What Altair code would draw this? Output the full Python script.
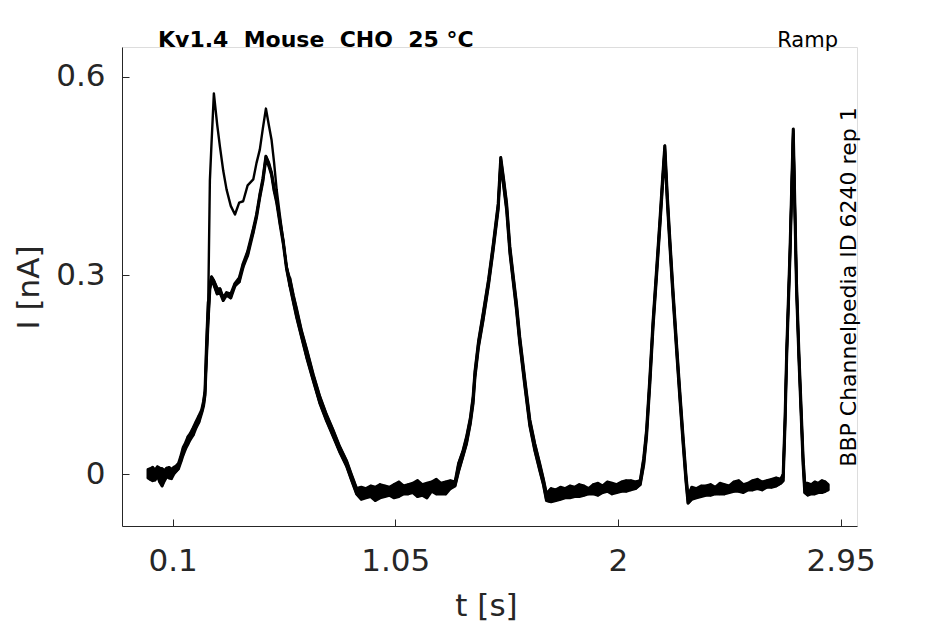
import altair as alt
import pandas as pd

# ---------------- data ----------------
# time grid [s], split by protocol segment
T_base0 = [-0.005, 0.005, 0.015, 0.025, 0.035, 0.045, 0.055, 0.065, 0.075, 0.085, 0.095, 0.105, 0.115]
T_rise = [0.125, 0.135, 0.145, 0.155, 0.165, 0.175, 0.188, 0.2, 0.212, 0.224, 0.232, 0.238, 0.245, 0.252]
T_cplx = [0.259, 0.266, 0.276, 0.29, 0.302, 0.316, 0.330, 0.348, 0.366, 0.384, 0.401, 0.42,
          0.444, 0.458, 0.472, 0.485, 0.498, 0.510, 0.522, 0.533, 0.544, 0.558, 0.572, 0.586]
T_decl = [0.60, 0.615, 0.629, 0.65, 0.672, 0.70, 0.728, 0.756, 0.785, 0.812, 0.842, 0.862, 0.885]
T_base1 = [0.905, 0.925, 0.945, 0.965, 0.985, 1.005, 1.025, 1.045, 1.065, 1.085, 1.105, 1.125,
           1.145, 1.165, 1.185, 1.205, 1.225, 1.245, 1.265, 1.285, 1.305]
T_pk3 = [1.32, 1.338, 1.354, 1.370, 1.382, 1.39, 1.405, 1.425, 1.448, 1.468, 1.489, 1.500,
         1.512, 1.525, 1.539, 1.553, 1.567, 1.581, 1.602, 1.624, 1.645, 1.666, 1.682, 1.695]
T_base2 = [1.715, 1.735, 1.755, 1.775, 1.795, 1.815, 1.835, 1.855, 1.875, 1.895, 1.915, 1.935,
           1.955, 1.975, 1.995, 2.015, 2.035, 2.055, 2.075, 2.095]
T_pk4 = [2.110, 2.122, 2.136, 2.150, 2.165, 2.179, 2.190, 2.200, 2.210, 2.221, 2.235, 2.250,
         2.264, 2.278, 2.290, 2.299]
T_base3 = [2.315, 2.335, 2.355, 2.375, 2.395, 2.415, 2.435, 2.455, 2.475, 2.495, 2.515, 2.535,
           2.555, 2.575, 2.595, 2.615, 2.635, 2.655, 2.675, 2.695]
T_pk5 = [2.705, 2.713, 2.720, 2.734, 2.748, 2.762, 2.772, 2.783, 2.790, 2.797]
T_base4 = [2.81, 2.825, 2.84, 2.855, 2.87, 2.885, 2.897]

# current [nA], trace A (upper first complex)
A_base0 = [0.004, -0.008, 0.010, -0.004, 0.006, -0.012, 0.008, -0.002, 0.009, -0.006, 0.007, 0.000, 0.012]
A_rise = [0.016, 0.018, 0.040, 0.038, 0.056, 0.052, 0.070, 0.070, 0.088, 0.092, 0.110, 0.125, 0.200, 0.260]
A_cplx = [0.444, 0.50, 0.575, 0.528, 0.494, 0.458, 0.430, 0.405, 0.392, 0.410, 0.412, 0.436,
          0.445, 0.470, 0.490, 0.522, 0.552, 0.528, 0.505, 0.470, 0.429, 0.390, 0.352, 0.313]
A_decl = [0.296, 0.270, 0.249, 0.216, 0.188, 0.150, 0.117, 0.090, 0.066, 0.042, 0.020, 0.000, -0.022]
A_base1 = [-0.020, -0.036, -0.018, -0.032, -0.016, -0.034, -0.020, -0.030, -0.012, -0.030, -0.016,
           -0.028, -0.010, -0.032, -0.014, -0.026, -0.008, -0.030, -0.012, -0.022, -0.014]
A_pk3 = [0.016, 0.034, 0.056, 0.084, 0.117, 0.155, 0.200, 0.243, 0.294, 0.347, 0.408, 0.478,
         0.446, 0.409, 0.343, 0.300, 0.258, 0.207, 0.145, 0.082, 0.046, 0.016, -0.008, -0.030]
A_base2 = [-0.022, -0.040, -0.020, -0.036, -0.018, -0.034, -0.016, -0.032, -0.022, -0.030, -0.014,
           -0.028, -0.012, -0.030, -0.016, -0.026, -0.010, -0.024, -0.012, -0.010]
A_pk4 = [0.024, 0.066, 0.145, 0.232, 0.310, 0.383, 0.444, 0.496, 0.425, 0.358, 0.277, 0.197,
         0.125, 0.056, 0.000, -0.034]
A_base3 = [-0.020, -0.036, -0.018, -0.032, -0.016, -0.030, -0.014, -0.030, -0.018, -0.026, -0.010,
           -0.028, -0.014, -0.024, -0.008, -0.024, -0.010, -0.020, -0.006, -0.008]
A_pk5 = [0.000, 0.085, 0.186, 0.337, 0.521, 0.288, 0.185, 0.087, 0.025, -0.014]
A_base4 = [-0.014, -0.030, -0.012, -0.028, -0.010, -0.026, -0.016]

# trace B (lower first complex)
B_base0 = [-0.006, 0.008, -0.010, 0.006, -0.003, 0.009, -0.018, 0.005, -0.004, 0.010, -0.002, 0.008, 0.004]
B_rise = [0.008, 0.027, 0.029, 0.047, 0.045, 0.061, 0.059, 0.079, 0.078, 0.097, 0.103, 0.119, 0.185, 0.240]
B_cplx = [0.285, 0.298, 0.292, 0.280, 0.274, 0.266, 0.270, 0.272, 0.284, 0.296, 0.313, 0.336,
          0.365, 0.392, 0.418, 0.446, 0.480, 0.470, 0.452, 0.432, 0.410, 0.382, 0.348, 0.313]
B_decl = [0.288, 0.264, 0.240, 0.210, 0.178, 0.143, 0.108, 0.083, 0.057, 0.035, 0.012, -0.008, -0.030]
B_base1 = [-0.038, -0.022, -0.034, -0.020, -0.036, -0.018, -0.032, -0.016, -0.034, -0.018, -0.030,
           -0.014, -0.034, -0.016, -0.028, -0.012, -0.030, -0.014, -0.026, -0.010, -0.018]
B_pk3 = [0.004, 0.026, 0.046, 0.076, 0.107, 0.146, 0.192, 0.233, 0.286, 0.339, 0.400, 0.470,
         0.436, 0.399, 0.334, 0.291, 0.248, 0.198, 0.135, 0.073, 0.036, 0.006, -0.016, -0.040]
B_base2 = [-0.042, -0.024, -0.038, -0.022, -0.036, -0.020, -0.034, -0.018, -0.030, -0.016, -0.032,
           -0.018, -0.026, -0.014, -0.028, -0.012, -0.026, -0.010, -0.022, -0.016]
B_pk4 = [0.014, 0.056, 0.135, 0.223, 0.300, 0.374, 0.435, 0.488, 0.415, 0.348, 0.267, 0.187,
         0.115, 0.046, -0.010, -0.044]
B_base3 = [-0.038, -0.022, -0.034, -0.018, -0.032, -0.020, -0.030, -0.016, -0.028, -0.012, -0.026,
           -0.016, -0.024, -0.010, -0.022, -0.012, -0.020, -0.008, -0.018, -0.014]
B_pk5 = [-0.010, 0.075, 0.177, 0.328, 0.514, 0.278, 0.175, 0.077, 0.015, -0.028]
B_base4 = [-0.032, -0.016, -0.030, -0.014, -0.028, -0.012, -0.024]

# trace C (lower first complex, second repetition)
C_base0 = [0.007, -0.003, 0.005, -0.009, 0.011, -0.002, 0.004, -0.010, 0.006, 0.001, -0.007, 0.010, 0.006]
C_rise = [0.013, 0.020, 0.036, 0.041, 0.052, 0.055, 0.066, 0.073, 0.085, 0.093, 0.107, 0.121, 0.180, 0.235]
C_cplx = [0.280, 0.292, 0.286, 0.272, 0.280, 0.262, 0.274, 0.266, 0.288, 0.290, 0.318, 0.330,
          0.370, 0.388, 0.422, 0.442, 0.476, 0.466, 0.455, 0.428, 0.414, 0.378, 0.352, 0.310]
C_decl = [0.285, 0.260, 0.237, 0.207, 0.176, 0.141, 0.107, 0.081, 0.058, 0.034, 0.014, -0.006, -0.028]
C_base1 = [-0.026, -0.030, -0.024, -0.040, -0.022, -0.028, -0.024, -0.036, -0.022, -0.024, -0.028,
           -0.020, -0.026, -0.018, -0.036, -0.020, -0.022, -0.018, -0.030, -0.016, -0.012]
C_pk3 = [0.010, 0.029, 0.052, 0.079, 0.112, 0.150, 0.195, 0.239, 0.289, 0.344, 0.403, 0.474,
         0.441, 0.403, 0.339, 0.294, 0.254, 0.201, 0.141, 0.076, 0.042, 0.010, -0.012, -0.034]
C_base2 = [-0.030, -0.028, -0.030, -0.030, -0.026, -0.028, -0.024, -0.026, -0.026, -0.020, -0.024,
           -0.022, -0.020, -0.022, -0.020, -0.018, -0.018, -0.016, -0.018, -0.014]
C_pk4 = [0.020, 0.061, 0.140, 0.228, 0.305, 0.378, 0.440, 0.492, 0.420, 0.353, 0.272, 0.192,
         0.120, 0.051, -0.005, -0.038]
C_base3 = [-0.028, -0.026, -0.028, -0.024, -0.026, -0.024, -0.024, -0.022, -0.022, -0.020, -0.020,
           -0.018, -0.018, -0.016, -0.018, -0.014, -0.016, -0.014, -0.012, -0.012]
C_pk5 = [-0.005, 0.080, 0.182, 0.333, 0.518, 0.283, 0.180, 0.082, 0.020, -0.020]
C_base4 = [-0.022, -0.024, -0.020, -0.020, -0.022, -0.018, -0.020]

X_TICKS = [0.1, 1.05, 2, 2.95]
Y_TICKS = [0, 0.3, 0.6]
TITLE = "Kv1.4 \u00a0Mouse \u00a0CHO \u00a025 °C"
PROTOCOL = "Ramp"
SOURCE = "BBP Channelpedia ID 6240 rep 1"

# ---------------- assemble ----------------
T = (T_base0 + T_rise + T_cplx + T_decl + T_base1 + T_pk3 + T_base2 + T_pk4 + T_base3
     + T_pk5 + T_base4)
n_pre = len(T_base0) + len(T_rise)
n_cplx = len(T_cplx)
traces = {
    "A": A_base0 + A_rise + A_cplx + A_decl + A_base1 + A_pk3 + A_base2 + A_pk4 + A_base3 + A_pk5 + A_base4,
    "B": B_base0 + B_rise + B_cplx + B_decl + B_base1 + B_pk3 + B_base2 + B_pk4 + B_base3 + B_pk5 + B_base4,
    "C": C_base0 + C_rise + C_cplx + C_decl + C_base1 + C_pk3 + C_base2 + C_pk4 + C_base3 + C_pk5 + C_base4,
}
rows = []
for name, vals in traces.items():
    assert len(vals) == len(T), (name, len(vals), len(T))
    for i, (t, v) in enumerate(zip(T, vals)):
        rows.append({"t": t, "I": v, "trace": name, "idx": i})
df = pd.DataFrame(rows)


# spread between the repetitions (noise band) where they overlap
def band_frame(i0, i1, keys):
    out = []
    for i in range(i0, i1):
        vals = [traces[k][i] for k in keys]
        out.append({"t": T[i], "lo": min(vals), "hi": max(vals)})
    return pd.DataFrame(out)


band_pre = band_frame(0, n_pre, "ABC")
band_cplx = band_frame(n_pre - 1, n_pre + n_cplx + 1, "BC")   # the two lower repetitions
band_post = band_frame(n_pre + n_cplx, len(T), "ABC")

W, H = 735, 479
AX = "#262626"
FONT = "DejaVu Sans"

xscale = alt.Scale(domain=[-0.116, 3.02], nice=False, zero=False)
yscale = alt.Scale(domain=[-0.0785, 0.645], nice=False, zero=False)

lines = alt.Chart(df).mark_line(color="black", strokeWidth=2.4, strokeJoin="round").encode(
    x=alt.X("t:Q", scale=xscale,
            axis=alt.Axis(orient="bottom", values=X_TICKS, format=".3~g", ticks=False, grid=False,
                          domainColor=AX, domainWidth=1, labelFont=FONT, labelFontSize=31,
                          labelColor=AX, labelPadding=20, title="t [s]", titleFont=FONT,
                          titleFontSize=31, titleFontWeight="normal", titleColor=AX,
                          titleBaseline="alphabetic", titleY=89, titleX=364)),
    y=alt.Y("I:Q", scale=yscale,
            axis=alt.Axis(orient="left", values=Y_TICKS, format=".3~g", ticks=False, grid=False,
                          domainColor=AX, domainWidth=1, labelFont=FONT, labelFontSize=31,
                          labelColor=AX, labelPadding=17, title="I [nA]", titleFont=FONT,
                          titleFontSize=31, titleFontWeight="normal", titleColor=AX,
                          titleBaseline="alphabetic", titleX=-84, titleY=240)),
    detail="trace:N",
    order="idx:Q",
)


def band_layer(frame):
    return alt.Chart(frame).mark_area(fill="black", stroke="black", strokeWidth=3,
                                      strokeJoin="round", fillOpacity=1).encode(
        x=alt.X("t:Q", scale=xscale, axis=None),
        y=alt.Y("lo:Q", scale=yscale, axis=None),
        y2=alt.Y2("hi:Q"),
    )


tick_layer = alt.Chart(df).mark_point(opacity=0).encode(
    x=alt.X("t:Q", scale=xscale,
            axis=alt.Axis(orient="top", offset=-H, values=X_TICKS, labels=False, domain=False,
                          ticks=True, tickSize=7, tickColor=AX, tickWidth=1, grid=False, title="")),
    y=alt.Y("I:Q", scale=yscale,
            axis=alt.Axis(orient="right", offset=-W, values=Y_TICKS, labels=False, domain=False,
                          ticks=True, tickSize=7, tickColor=AX, tickWidth=1, grid=False, title="")),
)

title_txt = alt.Chart(pd.DataFrame({"s": [TITLE]})).mark_text(
    font=FONT, fontSize=22, fontWeight="bold", color="black", align="left", baseline="alphabetic"
).encode(text="s:N", x=alt.value(36), y=alt.value(0))

proto_txt = alt.Chart(pd.DataFrame({"s": [PROTOCOL]})).mark_text(
    font=FONT, fontSize=21, color="black", align="right", baseline="alphabetic"
).encode(text="s:N", x=alt.value(716), y=alt.value(0))

source_txt = alt.Chart(pd.DataFrame({"s": [SOURCE]})).mark_text(
    font=FONT, fontSize=22, color="black", align="center", baseline="alphabetic", angle=270
).encode(text="s:N", x=alt.value(734), y=alt.value(240))

chart = alt.layer(lines, band_layer(band_pre), band_layer(band_cplx), band_layer(band_post),
                  tick_layer, title_txt, proto_txt, source_txt).resolve_axis(
    x="independent", y="independent"
).properties(
    width=W, height=H,
    autosize=alt.AutoSizeParams(type="none"),
    padding={"left": 114, "top": 39, "right": 70, "bottom": 96},
).configure_view(strokeWidth=0).configure(background="white")

chart.save("out.html", embed_options={"renderer": "svg", "actions": False})
